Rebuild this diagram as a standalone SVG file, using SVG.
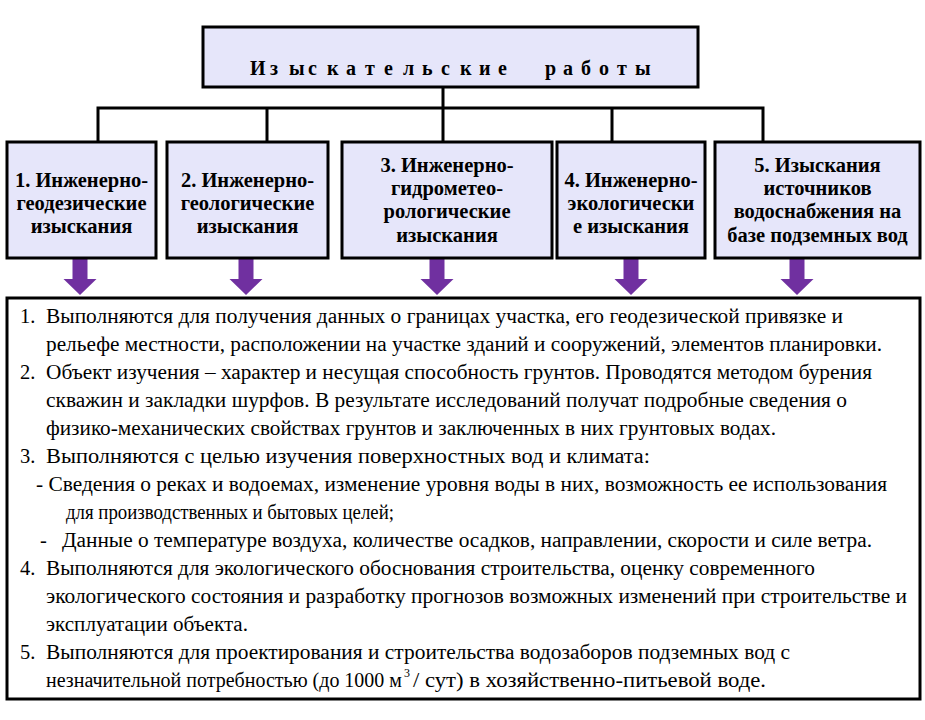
<svg xmlns="http://www.w3.org/2000/svg" width="925" height="720" viewBox="0 0 925 720">
<rect width="925" height="720" fill="#fff"/>
<g id="connectors">
<path stroke="#000" stroke-width="3" fill="none" d="M443,87 V108 M96.5,108 H764.5 M98,108 V142 M267,108 V142 M443,108 V142 M612,108 V142 M763,108 V142"/>
<path fill="#7030A0" d="M72.5,258 H87.5 V279 H96.5 L80,295 L63.5,279 H72.5 Z"/>
<path fill="#7030A0" d="M238.5,258 H253.5 V279 H262.5 L246,295 L229.5,279 H238.5 Z"/>
<path fill="#7030A0" d="M429.5,258 H444.5 V279 H453.5 L437,295 L420.5,279 H429.5 Z"/>
<path fill="#7030A0" d="M623.5,258 H638.5 V279 H647.5 L631,295 L614.5,279 H623.5 Z"/>
<path fill="#7030A0" d="M789.5,258 H804.5 V279 H813.5 L797,295 L780.5,279 H789.5 Z"/>
</g>
<g id="title">
<rect x="203" y="27" width="495" height="60" fill="#E6E6FA" stroke="#000" stroke-width="3"/>
<text y="75" font-family="Liberation Serif, serif" font-weight="bold" font-size="20"><tspan x="250 270 289 308 327 346 365 384 403 422 441 460 479 498">Изыскательские</tspan> <tspan x="545 563 581 599 617 635">работы</tspan></text>
</g>
<g id="node1">
<rect x="7" y="142" width="149" height="116" fill="#E6E6FA" stroke="#000" stroke-width="3"/>
<text x="81.5" y="187" font-family="Liberation Serif, serif" font-weight="bold" font-size="20.5" text-anchor="middle">1. Инженерно-</text>
<text x="81.5" y="210" font-family="Liberation Serif, serif" font-weight="bold" font-size="20.5" text-anchor="middle">геодезические</text>
<text x="81.5" y="233" font-family="Liberation Serif, serif" font-weight="bold" font-size="20.5" text-anchor="middle">изыскания</text>
</g>
<g id="node2">
<rect x="167" y="142" width="161" height="116" fill="#E6E6FA" stroke="#000" stroke-width="3"/>
<text x="247.5" y="187" font-family="Liberation Serif, serif" font-weight="bold" font-size="20.5" text-anchor="middle">2. Инженерно-</text>
<text x="247.5" y="210" font-family="Liberation Serif, serif" font-weight="bold" font-size="20.5" text-anchor="middle">геологические</text>
<text x="247.5" y="233" font-family="Liberation Serif, serif" font-weight="bold" font-size="20.5" text-anchor="middle">изыскания</text>
</g>
<g id="node3">
<rect x="342" y="142" width="210" height="116" fill="#E6E6FA" stroke="#000" stroke-width="3"/>
<text x="447" y="172" font-family="Liberation Serif, serif" font-weight="bold" font-size="20.5" text-anchor="middle">3. Инженерно-</text>
<text x="447" y="195" font-family="Liberation Serif, serif" font-weight="bold" font-size="20.5" text-anchor="middle">гидрометео-</text>
<text x="447" y="218" font-family="Liberation Serif, serif" font-weight="bold" font-size="20.5" text-anchor="middle">рологические</text>
<text x="447" y="242" font-family="Liberation Serif, serif" font-weight="bold" font-size="20.5" text-anchor="middle">изыскания</text>
</g>
<g id="node4">
<rect x="557" y="142" width="148" height="116" fill="#E6E6FA" stroke="#000" stroke-width="3"/>
<text x="631" y="187" font-family="Liberation Serif, serif" font-weight="bold" font-size="20.5" text-anchor="middle">4. Инженерно-</text>
<text x="631" y="210" font-family="Liberation Serif, serif" font-weight="bold" font-size="20.5" text-anchor="middle">экологически</text>
<text x="631" y="233" font-family="Liberation Serif, serif" font-weight="bold" font-size="20.5" text-anchor="middle">е изыскания</text>
</g>
<g id="node5">
<rect x="715" y="142" width="205" height="116" fill="#E6E6FA" stroke="#000" stroke-width="3"/>
<text x="817.5" y="172" font-family="Liberation Serif, serif" font-weight="bold" font-size="20.5" text-anchor="middle">5. Изыскания</text>
<text x="817.5" y="195" font-family="Liberation Serif, serif" font-weight="bold" font-size="20.5" text-anchor="middle">источников</text>
<text x="817.5" y="218" font-family="Liberation Serif, serif" font-weight="bold" font-size="20.5" text-anchor="middle">водоснабжения на</text>
<text x="817.5" y="242" font-family="Liberation Serif, serif" font-weight="bold" font-size="20.5" text-anchor="middle">базе подземных вод</text>
</g>
<g id="details">
<rect x="7" y="298" width="913" height="401" fill="#fff" stroke="#000" stroke-width="3"/>
<text x="20" y="323" font-family="Liberation Serif, serif" font-size="20.5">1.</text>
<text x="46" y="323" font-family="Liberation Serif, serif" font-size="20.5" textLength="797" lengthAdjust="spacingAndGlyphs">Выполняются для получения данных о границах участка, его геодезической привязке и</text>
<text x="46" y="351" font-family="Liberation Serif, serif" font-size="20.5" textLength="836" lengthAdjust="spacingAndGlyphs">рельефе местности, расположении на участке зданий и сооружений, элементов планировки.</text>
<text x="20" y="379" font-family="Liberation Serif, serif" font-size="20.5">2.</text>
<text x="46" y="379" font-family="Liberation Serif, serif" font-size="20.5" textLength="826" lengthAdjust="spacingAndGlyphs">Объект изучения – характер и несущая способность грунтов. Проводятся методом бурения</text>
<text x="46" y="407" font-family="Liberation Serif, serif" font-size="20.5" textLength="801" lengthAdjust="spacingAndGlyphs">скважин и закладки шурфов. В результате исследований получат подробные сведения о</text>
<text x="46" y="435" font-family="Liberation Serif, serif" font-size="20.5" textLength="730" lengthAdjust="spacingAndGlyphs">физико-механических свойствах грунтов и заключенных в них грунтовых водах.</text>
<text x="20" y="463" font-family="Liberation Serif, serif" font-size="20.5">3.</text>
<text x="46" y="463" font-family="Liberation Serif, serif" font-size="20.5" textLength="604" lengthAdjust="spacingAndGlyphs">Выполняются с целью изучения поверхностных вод и климата:</text>
<text x="36" y="491" font-family="Liberation Serif, serif" font-size="20.5" textLength="851" lengthAdjust="spacingAndGlyphs">- Сведения о реках и водоемах, изменение уровня воды в них, возможность ее использования</text>
<text x="66" y="519" font-family="Liberation Serif, serif" font-size="20.5" textLength="328" lengthAdjust="spacingAndGlyphs">для производственных и бытовых целей;</text>
<text x="40" y="547" font-family="Liberation Serif, serif" font-size="20.5">-</text>
<text x="62" y="547" font-family="Liberation Serif, serif" font-size="20.5" textLength="810" lengthAdjust="spacingAndGlyphs">Данные о температуре воздуха, количестве осадков, направлении, скорости и силе ветра.</text>
<text x="20" y="575" font-family="Liberation Serif, serif" font-size="20.5">4.</text>
<text x="46" y="575" font-family="Liberation Serif, serif" font-size="20.5" textLength="769" lengthAdjust="spacingAndGlyphs">Выполняются для экологического обоснования строительства, оценку современного</text>
<text x="46" y="603" font-family="Liberation Serif, serif" font-size="20.5" textLength="861" lengthAdjust="spacingAndGlyphs">экологического состояния и разработку прогнозов возможных изменений при строительстве и</text>
<text x="46" y="631" font-family="Liberation Serif, serif" font-size="20.5" textLength="202" lengthAdjust="spacingAndGlyphs">эксплуатации объекта.</text>
<text x="20" y="659" font-family="Liberation Serif, serif" font-size="20.5">5.</text>
<text x="46" y="659" font-family="Liberation Serif, serif" font-size="20.5" textLength="744" lengthAdjust="spacingAndGlyphs">Выполняются для проектирования и строительства водозаборов подземных вод с</text>
<text x="46" y="687" font-family="Liberation Serif, serif" font-size="20.5" textLength="356" lengthAdjust="spacingAndGlyphs">незначительной потребностью (до 1000 м</text>
<text x="404" y="677" font-family="Liberation Serif, serif" font-size="12">3</text>
<text x="413" y="687" font-family="Liberation Serif, serif" font-size="20.5" textLength="353" lengthAdjust="spacingAndGlyphs">/ сут) в хозяйственно-питьевой воде.</text>
</g>
</svg>
